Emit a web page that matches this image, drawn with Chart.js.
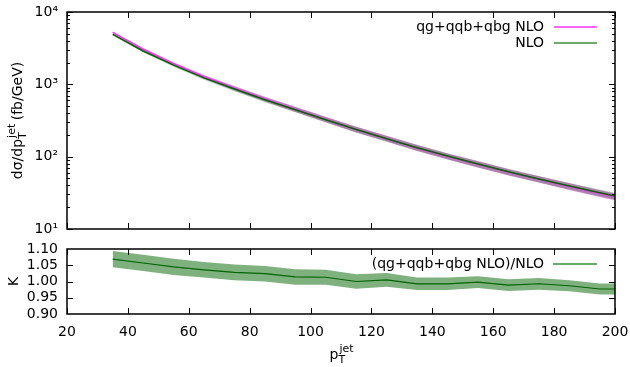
<!DOCTYPE html>
<html>
<head>
<meta charset="utf-8">
<script src="https://cdn.jsdelivr.net/npm/chart.js@4.4.0/dist/chart.umd.min.js"></script>
<style>
  body { margin: 0; background: #fff; }
  #wrap { position: relative; width: 630px; height: 367px; }
  canvas { position: absolute; left: 0; }
</style>
</head>
<body>
<div id="wrap">
  <canvas id="topChart" width="630" height="240" style="top:0"></canvas>
  <canvas id="botChart" width="630" height="127" style="top:240px"></canvas>
</div>
<script>
// bin centres (last one lies outside the frame so the curves run to 200)
const ptBins = [35, 45, 55, 65, 75, 85, 95, 105, 115, 125, 135, 145, 155, 165, 175, 185, 195, 205];
// dsigma/dpT (fb/GeV)
const nloVals = [4900, 2890, 1840, 1230, 860, 612, 446, 324, 238, 177, 133, 102, 79, 61.8, 49, 39.2, 31.7, 25.8];
const qgVals = [5238, 3055, 1923, 1274, 884, 627, 452, 328, 238, 178, 132, 101, 78.8, 61.1, 48.7, 38.7, 31.0, 25.2];
// relative scale uncertainty of both curves
const relErr = [0.03, 0.04, 0.05, 0.06, 0.07, 0.075, 0.08, 0.085, 0.09, 0.09, 0.095, 0.095, 0.10, 0.10, 0.10, 0.105, 0.105, 0.105];
// K = (qg+qqb+qbg NLO)/NLO and its band half width
const kVals = [1.069, 1.057, 1.045, 1.036, 1.028, 1.024, 1.014, 1.013, 1.000, 1.005, 0.993, 0.993, 0.998, 0.989, 0.993, 0.987, 0.977, 0.977];
const kErr = [0.025, 0.025, 0.025, 0.024, 0.024, 0.024, 0.024, 0.023, 0.022, 0.021, 0.019, 0.019, 0.018, 0.018, 0.018, 0.017, 0.017, 0.017];

const xTicks = [20, 40, 60, 80, 100, 120, 140, 160, 180, 200];
const logMajors = [10, 100, 1000, 10000];
const logLabels = ['10\u00b9', '10\u00b2', '10\u00b3', '10\u2074'];
const logMinors = [20, 30, 40, 50, 60, 70, 80, 90, 200, 300, 400, 500, 600, 700, 800, 900, 2000, 3000, 4000, 5000, 6000, 7000, 8000, 9000];
const kTicks = [0.90, 0.95, 1.00, 1.05, 1.10];

const FONT = 'DejaVu Sans';
const MAGENTA = '#ff33ff';
const GREEN = '#006400';

const pts = (vals) => ptBins.map((x, i) => ({ x: x, y: vals[i] }));
const scaled = (vals, errs, sign) => ptBins.map((x, i) => ({ x: x, y: vals[i] * (1 + sign * errs[i]) }));
const shifted = (vals, errs, sign) => ptBins.map((x, i) => ({ x: x, y: vals[i] + sign * errs[i] }));

// gnuplot style frame with inward ticks
const frameTicks = {
  id: 'frameTicks',
  afterDraw(chart, args, opts) {
    const { ctx, chartArea: a, scales } = chart;
    const x = scales.x, y = scales.y;
    ctx.save();
    ctx.strokeStyle = '#000';
    ctx.lineWidth = 1;
    ctx.beginPath();
    xTicks.forEach(v => {
      const px = Math.round(x.getPixelForValue(v)) + 0.5;
      ctx.moveTo(px, a.bottom); ctx.lineTo(px, a.bottom - 6);
      ctx.moveTo(px, a.top); ctx.lineTo(px, a.top + 6);
    });
    const tick = (v, len) => {
      const py = Math.round(y.getPixelForValue(v)) + 0.5;
      ctx.moveTo(a.left, py); ctx.lineTo(a.left + len, py);
      ctx.moveTo(a.right, py); ctx.lineTo(a.right - len, py);
    };
    (opts.majors || []).forEach(v => tick(v, 6));
    (opts.minors || []).forEach(v => tick(v, 3));
    ctx.stroke();
    ctx.lineWidth = 1.5;
    ctx.strokeRect(a.left, a.top, a.width, a.height);
    ctx.restore();
  }
};

// legend: text right aligned, then a short line sample
const gpLegend = {
  id: 'gpLegend',
  afterDraw(chart, args, opts) {
    const ctx = chart.ctx;
    ctx.save();
    ctx.font = '14px "' + FONT + '"';
    ctx.textAlign = 'right';
    ctx.textBaseline = 'middle';
    opts.items.forEach((it, i) => {
      const y = opts.y + i * 16;
      ctx.fillStyle = '#000';
      ctx.fillText(it.label, opts.textRight, y);
      ctx.strokeStyle = it.color;
      ctx.lineWidth = 1.5;
      ctx.beginPath();
      ctx.moveTo(opts.x0, y);
      ctx.lineTo(opts.x1, y);
      ctx.stroke();
    });
    ctx.restore();
  }
};

// "prefix p_T^jet suffix" style title
function drawPtTitle(ctx, prefix, suffix, cx, base, rotated) {
  const big = '14px "' + FONT + '"', small = '11px "' + FONT + '"';
  ctx.save();
  ctx.fillStyle = '#000';
  ctx.font = big;
  const w1 = ctx.measureText(prefix).width;
  const w3 = ctx.measureText(suffix).width;
  ctx.font = small;
  const w2 = Math.max(ctx.measureText('T').width, ctx.measureText('jet').width);
  const total = w1 + w2 + w3;
  if (rotated) {
    ctx.translate(base, cx);
    ctx.rotate(-Math.PI / 2);
  } else {
    ctx.translate(cx, base);
  }
  ctx.textBaseline = 'alphabetic';
  ctx.textAlign = 'left';
  let x = -total / 2;
  ctx.font = big;
  ctx.fillText(prefix, x, 0);
  x += w1;
  ctx.font = small;
  ctx.fillText('T', x, 4);
  ctx.fillText('jet', x + 1, -7);
  x += w2;
  ctx.font = big;
  ctx.fillText(suffix, x, 0);
  ctx.restore();
}

const titles = {
  id: 'titles',
  afterDraw(chart, args, opts) {
    const ctx = chart.ctx;
    const a = chart.chartArea;
    if (opts.which === 'top') {
      drawPtTitle(ctx, 'd\u03c3/dp', ' (fb/GeV)', (a.top + a.bottom) / 2, 22, true);
    } else {
      ctx.save();
      ctx.font = '14px "' + FONT + '"';
      ctx.fillStyle = '#000';
      ctx.textAlign = 'center';
      ctx.translate(18, (a.top + a.bottom) / 2);
      ctx.rotate(-Math.PI / 2);
      ctx.fillText('K', 0, 0);
      ctx.restore();
      drawPtTitle(ctx, 'p', '', (a.left + a.right) / 2, 119, false);
    }
  }
};

Chart.defaults.font.family = FONT;
Chart.defaults.font.size = 14;
Chart.defaults.color = '#000';

const noLine = { borderWidth: 0, pointRadius: 0, fill: false };
// tick marks are drawn by frameTicks; tickLength only pushes the labels away
const hiddenGrid = (len) => ({ display: false, drawTicks: true, tickLength: len });

new Chart(document.getElementById('topChart'), {
  type: 'line',
  data: {
    datasets: [
      Object.assign({ data: scaled(nloVals, relErr, -1), order: 10 }, noLine),
      { data: scaled(nloVals, relErr, 1), order: 10, borderWidth: 0, pointRadius: 0, fill: '-1', backgroundColor: 'rgba(0,120,0,0.3)' },
      Object.assign({ data: scaled(qgVals, relErr, -1), order: 9 }, noLine),
      { data: scaled(qgVals, relErr, 1), order: 9, borderWidth: 0, pointRadius: 0, fill: '-1', backgroundColor: 'rgba(170,40,170,0.5)' },
      { label: 'qg+qqb+qbg NLO', data: pts(qgVals), order: 2, borderColor: MAGENTA, borderWidth: 1.5, pointRadius: 0, fill: false },
      { label: 'NLO', data: pts(nloVals), order: 1, borderColor: GREEN, borderWidth: 1.5, pointRadius: 0, fill: false }
    ]
  },
  options: {
    responsive: false,
    animation: false,
    events: [],
    layout: { padding: { top: 12, right: 15, left: 0, bottom: 0 } },
    scales: {
      x: {
        type: 'linear', min: 20, max: 200,
        afterBuildTicks: s => { s.ticks = xTicks.map(v => ({ value: v })); },
        ticks: { display: false, padding: 0 },
        grid: { display: false },
        border: { display: false },
        afterFit: s => { s.height = 11; }
      },
      y: {
        type: 'logarithmic', min: 10, max: 10000,
        afterBuildTicks: s => { s.ticks = logMajors.map(v => ({ value: v })); },
        ticks: { callback: (v, i) => logLabels[i], padding: 0, autoSkip: false },
        grid: hiddenGrid(9),
        border: { display: false },
        afterFit: s => { s.width = 67; }
      }
    },
    plugins: {
      legend: { display: false },
      tooltip: { enabled: false },
      frameTicks: { majors: logMajors, minors: logMinors },
      gpLegend: {
        y: 27, textRight: 544, x0: 554, x1: 597,
        items: [{ label: 'qg+qqb+qbg NLO', color: MAGENTA }, { label: 'NLO', color: '#3c8c3c' }]
      },
      titles: { which: 'top' }
    }
  },
  plugins: [frameTicks, gpLegend, titles]
});

new Chart(document.getElementById('botChart'), {
  type: 'line',
  data: {
    datasets: [
      Object.assign({ data: shifted(kVals, kErr, -1), order: 10 }, noLine),
      { data: shifted(kVals, kErr, 1), order: 10, borderWidth: 0, pointRadius: 0, fill: '-1', backgroundColor: 'rgba(0,100,0,0.5)' },
      { label: '(qg+qqb+qbg NLO)/NLO', data: pts(kVals), order: 1, borderColor: GREEN, borderWidth: 1.2, pointRadius: 0, fill: false }
    ]
  },
  options: {
    responsive: false,
    animation: false,
    events: [],
    layout: { padding: { top: 9, right: 15, left: 0, bottom: 0 } },
    scales: {
      x: {
        type: 'linear', min: 20, max: 200,
        afterBuildTicks: s => { s.ticks = xTicks.map(v => ({ value: v })); },
        ticks: { padding: 0, autoSkip: false, maxRotation: 0 },
        grid: hiddenGrid(10),
        border: { display: false },
        afterFit: s => { s.height = 53; }
      },
      y: {
        type: 'linear', min: 0.90, max: 1.10,
        afterBuildTicks: s => { s.ticks = kTicks.map(v => ({ value: v })); },
        ticks: { callback: v => v.toFixed(2), padding: 0, autoSkip: false },
        grid: hiddenGrid(9),
        border: { display: false },
        afterFit: s => { s.width = 67; }
      }
    },
    plugins: {
      legend: { display: false },
      tooltip: { enabled: false },
      frameTicks: { majors: kTicks.slice(1, 4), minors: [] },
      gpLegend: {
        y: 24, textRight: 544, x0: 553, x1: 597,
        items: [{ label: '(qg+qqb+qbg NLO)/NLO', color: '#3c8c3c' }]
      },
      titles: { which: 'bot' }
    }
  },
  plugins: [frameTicks, gpLegend, titles]
});
</script>
</body>
</html>
